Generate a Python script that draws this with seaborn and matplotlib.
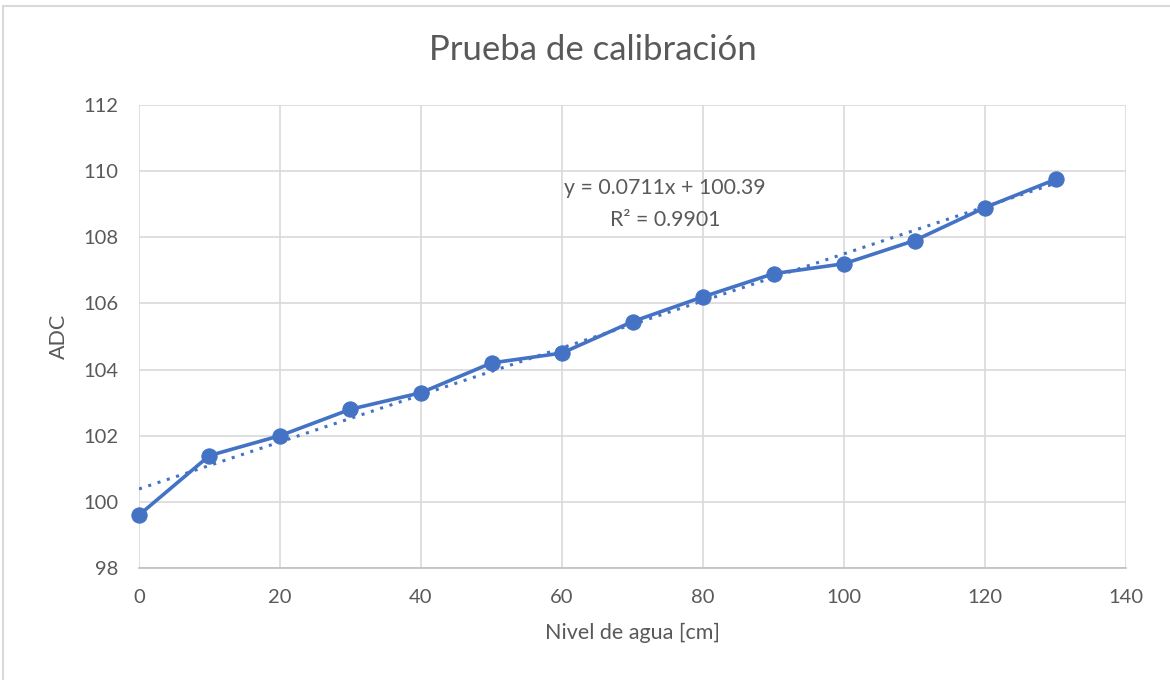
import numpy as np
import pandas as pd
import matplotlib
matplotlib.use('Agg')
import matplotlib.pyplot as plt
import seaborn as sns
from matplotlib.patches import Rectangle

nivel = [0, 10, 20, 30, 40, 50, 60, 70, 80, 90, 100, 110, 120, 130]
adc = [99.6, 101.4, 102.0, 102.8, 103.3, 104.2, 104.5, 105.45, 106.2,
       106.9, 107.2, 107.9, 108.9, 109.75]
pendiente = 0.0711
intercepto = 100.39
x_ticks = [0, 20, 40, 60, 80, 100, 120, 140]
y_ticks = [98, 100, 102, 104, 106, 108, 110, 112]

df = pd.DataFrame({'nivel': nivel, 'adc': adc})
df['tendencia'] = pendiente * df['nivel'] + intercepto

sns.set_style('white')
plt.rcParams['font.family'] = ['Lato', 'DejaVu Sans']
azul = '#4472C4'
gris = '#595959'

fig = plt.figure(figsize=(11.7, 6.8), dpi=100)
ax = fig.add_axes([0.1188, 0.1647, 0.8436, 0.6809])

sns.lineplot(data=df, x='nivel', y='tendencia', ax=ax, color=azul,
             linestyle=(0, (1, 2.2)), linewidth=2.2, zorder=2)
sns.lineplot(data=df, x='nivel', y='adc', ax=ax, color=azul, linewidth=2.6,
             marker='o', markersize=11, markeredgecolor=azul, zorder=3,
             clip_on=False)

ax.set_xlim(0, 140)
ax.set_ylim(98, 112)
ax.set_xticks(x_ticks)
ax.set_yticks(y_ticks)
ax.grid(True, color='#D9D9D9', linewidth=1.2)
for s in ['top', 'right', 'left']:
    ax.spines[s].set_visible(False)
ax.spines['bottom'].set_color('#BFBFBF')
ax.spines['bottom'].set_linewidth(1.2)
ax.tick_params(axis='both', length=0, labelsize=14.5, labelcolor=gris, pad=15)

ax.set_xlabel('Nivel de agua [cm]', fontsize=15.5, color=gris, labelpad=12)
ax.set_ylabel('ADC', fontsize=15.5, color=gris, labelpad=10)
fig.text(593 / 1170, 1 - 50 / 680, 'Prueba de calibración', ha='center',
         va='center', fontsize=25, color=gris)

ax.text(74.6, 109.0, 'y = 0.0711x + 100.39\nR² = 0.9901', ha='center',
        va='center', fontsize=15.3, color=gris, linespacing=1.75)

fig.patches.append(Rectangle((3 / 1170, -0.05), 1.2, 1 - 6 / 680 + 0.05,
                             transform=fig.transFigure, fill=False,
                             edgecolor='#D9D9D9', linewidth=1.5))

fig.savefig('out.png', dpi=100, facecolor='white')
